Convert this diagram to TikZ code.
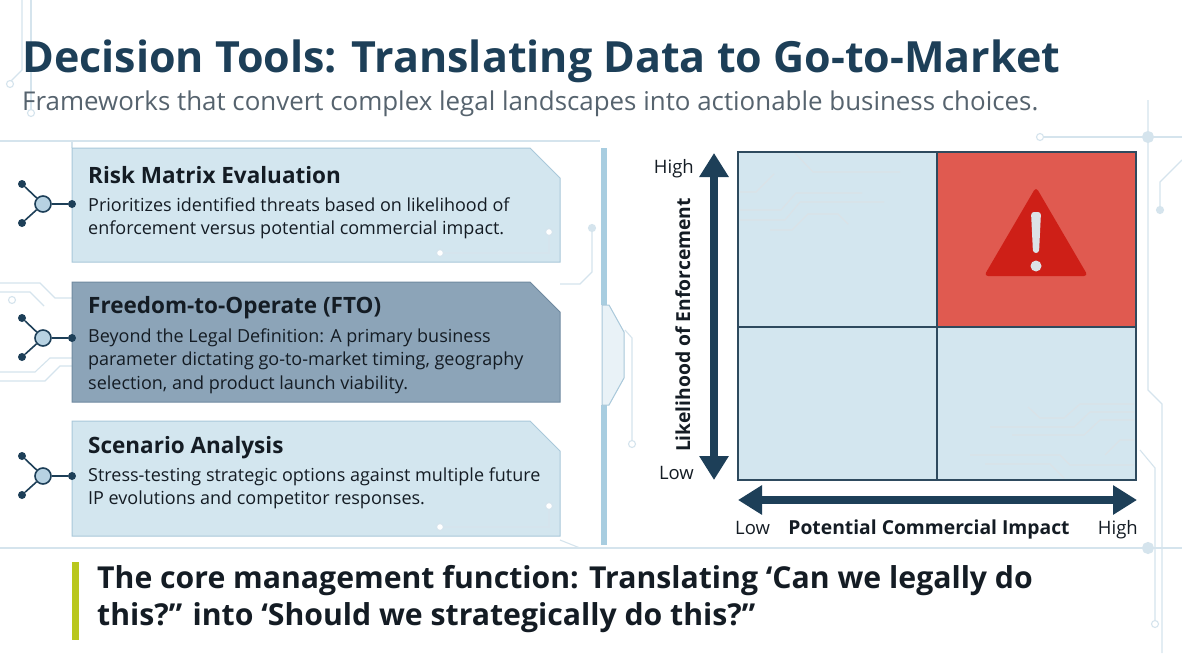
\documentclass[tikz,border=0pt]{standalone}
\usepackage{fontspec}
\setmainfont{Open Sans}
\usetikzlibrary{arrows.meta,positioning}
\definecolor{navy}{HTML}{1D3F58}
\definecolor{inkdark}{HTML}{141C24}
\definecolor{subgray}{HTML}{56636E}
\definecolor{panelfill}{HTML}{D3E6EF}
\definecolor{paneledge}{HTML}{A9C8DA}
\definecolor{ftofill}{HTML}{8CA4B8}
\definecolor{ftoedge}{HTML}{6F8AA0}
\definecolor{hubfill}{HTML}{B7D2E2}
\definecolor{cellfill}{HTML}{D3E6EF}
\definecolor{gridline}{HTML}{2E4A5E}
\definecolor{hotcell}{HTML}{E05A50}
\definecolor{warnred}{HTML}{CE1F17}
\definecolor{warnmark}{HTML}{DCE2E6}
\definecolor{tracecol}{HTML}{D5E4ED}
\definecolor{barblue}{HTML}{A8CDE0}
\definecolor{accent}{HTML}{B9C71C}
\tikzset{
  panel/.style={fill=panelfill, draw=paneledge, line width=1pt},
  ftopanel/.style={fill=ftofill, draw=ftoedge, line width=1pt},
  headtxt/.style={anchor=base west, inner sep=0pt, text=inkdark,
    font=\bfseries\fontsize{22.5}{26}\selectfont},
  bodytxt/.style={anchor=north west, inner sep=0pt, text=inkdark, align=left,
    font=\fontsize{18}{23.5}\selectfont},
  hub/.style={circle, draw=navy, line width=1.6pt, fill=hubfill,
    minimum size=16pt, inner sep=0pt},
  pin/.style={circle, fill=navy, minimum size=8pt, inner sep=0pt},
  link/.style={draw=navy, line width=1.6pt},
  trace/.style={draw=tracecol, line width=1.1pt},
  cellwire/.style={draw=tracecol!70!gridline!40, line width=1.1pt},
  pad/.style={circle, draw=tracecol, line width=1.1pt, fill=white,
    minimum size=7pt, inner sep=0pt},
  bigarrow/.style={draw=navy, line width=8pt,
    {Triangle[width=28pt,length=24pt]}-{Triangle[width=28pt,length=24pt]}},
  axistxt/.style={inner sep=0pt, text=inkdark, font=\fontsize{18.5}{22}\selectfont},
  axishead/.style={inner sep=0pt, text=inkdark, font=\bfseries\fontsize{19.3}{22}\selectfont},
}
\begin{document}
\begin{tikzpicture}[x=1pt,y=-1pt]
  \useasboundingbox (0,0) rectangle (1182,653);
  \fill[white] (0,0) rectangle (1182,653);
  % background traces
  \draw[trace] (22,0) -- (22,70) -- (10,82);
  \node[pad] (padA) at (10,84) {};
  \draw[trace] (31,0) -- (31,110);
  \node[pad] (padB) at (31,113) {};
  \draw[trace] (0,141) -- (600,141);
  \draw[trace] (1040,137) -- (1182,137);
  \node[pad] (padC) at (1040,137) {};
  \draw[trace] (0,548) -- (1182,548);
  \draw[trace] (1148,100) -- (1148,390) -- (1162,404) -- (1162,653);
  \node[pad, minimum size=11pt, fill=tracecol] (padD) at (1148,137) {};
  \node[pad, minimum size=11pt, fill=tracecol] (padE) at (1148,548) {};
  \draw[trace] (1182,160) -- (1160,182) -- (1160,206);
  \node[pad, fill=tracecol] (padF) at (1160,210) {};
  \draw[trace] (1140,450) -- (1155,468) -- (1155,620);
  \node[pad] (padG) at (1155,624) {};
  \draw[trace] (0,283) -- (40,283) -- (55,298) -- (72,298);
  \draw[trace] (0,292) -- (30,292) -- (44,306);
  \draw[trace] (0,372) -- (35,372) -- (50,358) -- (72,358);
  \draw[trace] (0,381) -- (45,381) -- (60,366) -- (72,366);
  \node[pad] (padH) at (12,300) {};
  \draw[trace] (592,232) -- (592,272) -- (580,284) -- (560,284);
  \node[pad, fill=tracecol] (padI) at (592,228) {};
  \draw[trace] (625,330) -- (632,338) -- (632,440);
  \node[pad] (padJ) at (632,444) {};
  \draw[trace] (72,141) -- (72,148);
  \draw[trace] (560,540) -- (580,548);
  % decision panels
  \draw[panel] (72,148) -- (530,148) -- (560,178) -- (560,262) -- (72,262) -- cycle;
  \draw[ftopanel] (72,282) -- (530,282) -- (560,312) -- (560,402) -- (72,402) -- cycle;
  \draw[panel] (72,421) -- (530,421) -- (560,451) -- (560,536) -- (72,536) -- cycle;
  \draw[trace] (549,236) -- (549,253) -- (444,253);
  \node[pad] (padK) at (549,232) {};
  \node[pad] (padL) at (440,253) {};
  \draw[trace] (549,510) -- (549,527) -- (444,527);
  \node[pad] (padM) at (549,506) {};
  \node[pad] (padN) at (440,527) {};
  \node[headtxt] (riskhead) at (88,183) {Risk Matrix Evaluation};
  \node[bodytxt] (riskbody) at (88,197.5) {Prioritizes identified threats based on likelihood of\\enforcement versus potential commercial impact.};
  \node[headtxt] (ftohead) at (88,313) {Freedom-to-Operate (FTO)};
  \node[bodytxt] (ftobody) at (88,328.5) {Beyond the Legal Definition: A primary business\\parameter dictating go-to-market timing, geography\\selection, and product launch viability.};
  \node[headtxt] (scenhead) at (88,453) {Scenario Analysis};
  \node[bodytxt] (scenbody) at (88,467.5) {Stress-testing strategic options against multiple future\\IP evolutions and competitor responses.};
  % panel icons
  \node[hub] (hubA) at (43,204) {};
  \node[pin] (pinAr) at (72,204) {};
  \node[pin] (pinAu) at (22,184) {};
  \node[pin] (pinAd) at (22,223) {};
  \draw[link] (hubA) -- (pinAr);
  \draw[link] (hubA) -- (pinAu);
  \draw[link] (hubA) -- (pinAd);
  \node[hub] (hubB) at (43,338) {};
  \node[pin] (pinBr) at (72,338) {};
  \node[pin] (pinBu) at (22,318) {};
  \node[pin] (pinBd) at (22,357) {};
  \draw[link] (hubB) -- (pinBr);
  \draw[link] (hubB) -- (pinBu);
  \draw[link] (hubB) -- (pinBd);
  \node[hub] (hubC) at (43,476) {};
  \node[pin] (pinCr) at (72,476) {};
  \node[pin] (pinCu) at (22,456) {};
  \node[pin] (pinCd) at (22,495) {};
  \draw[link] (hubC) -- (pinCr);
  \draw[link] (hubC) -- (pinCu);
  \draw[link] (hubC) -- (pinCd);
  % divider
  \fill[barblue] (601,148) rectangle (607,305);
  \fill[barblue] (601,405) rectangle (607,545);
  \draw[fill=panelfill!50, draw=paneledge, line width=1pt]
    (602,305) -- (609,305) -- (624,332) -- (624,378) -- (609,405) -- (602,405) -- cycle;
  % risk matrix
  \fill[cellfill] (738,152) rectangle (1136,480);
  \fill[hotcell] (937,152) rectangle (1136,327);
  \draw[cellwire] (740,192) -- (756,192) -- (774,174);
  \draw[cellwire] (795,153) -- (813,172) -- (900,172);
  \draw[cellwire] (740,210) -- (781,210) -- (796,193) -- (862,193);
  \draw[cellwire] (740,220) -- (785,220) -- (800,202) -- (884,202);
  \draw[cellwire] (770,230) -- (792,230) -- (808,214) -- (838,214) -- (848,224);
  \draw[cellwire] (1134,404) -- (1080,404) -- (1064,418) -- (1040,418) -- (1028,407);
  \draw[cellwire] (1134,412) -- (1090,412) -- (1074,427) -- (990,427);
  \draw[cellwire] (1134,420) -- (1100,420) -- (1084,435) -- (1012,435);
  \draw[cellwire] (970,455) -- (1060,455) -- (1070,465) -- (1134,465);
  \draw[cellwire] (985,464) -- (1050,464) -- (1064,478);
  \draw[cellwire] (1134,440) -- (1120,440) -- (1105,455);
  \draw[gridline, line width=1.2pt] (738,152) rectangle (1136,480);
  \draw[gridline, line width=1.2pt] (937,152) -- (937,480);
  \draw[gridline, line width=1.2pt] (738,327) -- (1136,327);
  \node (warnsign) at (1036,236) {};
  \fill[warnred, rounded corners=4pt] (1036,187) -- (1088,276) -- (984,276) -- cycle;
  \fill[warnmark, rounded corners=3pt] (1031,212) -- (1041,212) -- (1039,253) -- (1033,253) -- cycle;
  \fill[warnmark] (1036,266) circle (5.5);
  % axes
  \coordinate (ytop) at (714,153);
  \coordinate (ybot) at (714,480);
  \coordinate (xleft) at (738,500);
  \coordinate (xright) at (1137,500);
  \draw[bigarrow] (ybot) -- (ytop);
  \draw[bigarrow] (xleft) -- (xright);
  \node[axistxt, anchor=base east] (yhigh) at (694,173) {High};
  \node[axistxt, anchor=base east] (ylow) at (694,479) {Low};
  \node[axishead, rotate=90, anchor=base] (ylabel) at (690,325) {Likelihood of Enforcement};
  \node[axistxt, anchor=base west] (xlow) at (735,534) {Low};
  \node[axishead, anchor=base] (xlabel) at (929,534) {Potential Commercial Impact};
  \node[axistxt, anchor=base east] (xhigh) at (1138,534) {High};
  % title block
  \node[anchor=base west, inner sep=0pt, text=navy,
    font=\bfseries\fontsize{43}{48}\selectfont] (title) at (22,72)
    {Decision Tools: Translating Data to Go-to-Market};
  \node[anchor=base west, inner sep=0pt, text=subgray,
    font=\fontsize{25.9}{30}\selectfont] (subtitle) at (22,110)
    {Frameworks that convert complex legal landscapes into actionable business choices.};
  % takeaway
  \fill[accent] (72,562) rectangle (79,640);
  \node[anchor=north west, inner sep=0pt, text=inkdark, align=left,
    font=\bfseries\fontsize{30.2}{37}\selectfont] (takeaway) at (97,565)
    {The core management function: Translating ‘Can we legally do\\this?” into ‘Should we strategically do this?”};
\end{tikzpicture}
\end{document}
